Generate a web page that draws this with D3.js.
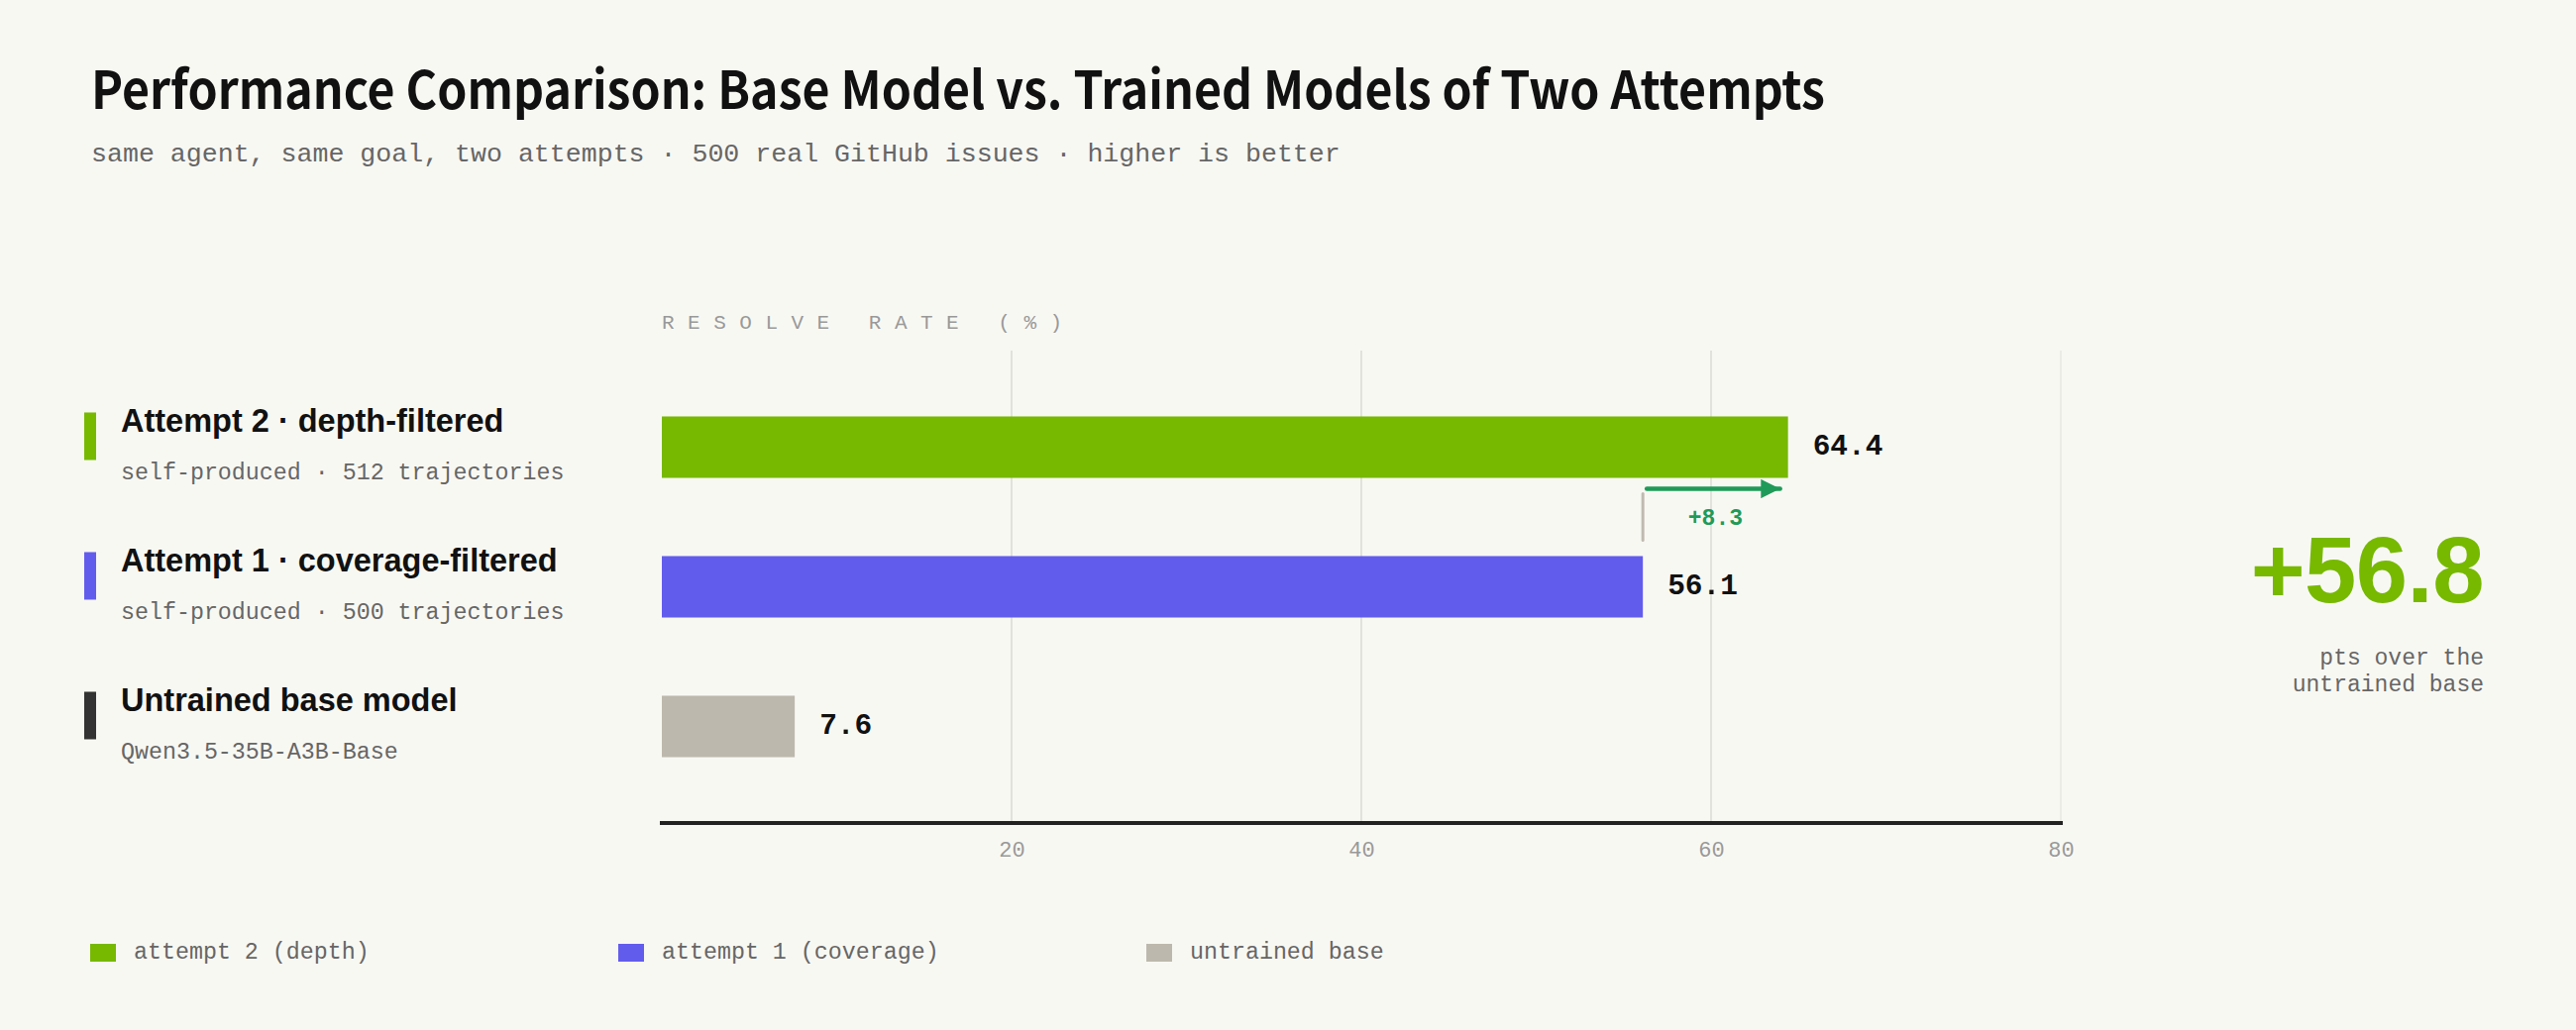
<!DOCTYPE html>
<html>
<head>
<meta charset="utf-8" />
<script src="https://cdn.jsdelivr.net/npm/d3@7"></script>
<style>
  body { margin: 0; background: #f8f8f3; }
  svg { display: block; }
  .mono { font-family: "Liberation Mono", "DejaVu Sans Mono", monospace; }
  .sans { font-family: "Liberation Sans", Arial, sans-serif; }
</style>
</head>
<body>
<div id="chart"></div>
<script>
// data
var categories = ["Attempt 2 · depth-filtered", "Attempt 1 · coverage-filtered", "Untrained base model"];
var subLabels = ["self-produced · 512 trajectories", "self-produced · 500 trajectories", "Qwen3.5-35B-A3B-Base"];
var values = [64.4, 56.1, 7.6];
var legendLabels = ["attempt 2 (depth)", "attempt 1 (coverage)", "untrained base"];
var tickValues = [20, 40, 60, 80];

var barColors = ["#76b900", "#625ced", "#bdb8ad"];
var markColors = ["#76b900", "#625ced", "#333333"];

var width = 2600, height = 1040;
var svg = d3.select("#chart").append("svg")
  .attr("width", width)
  .attr("height", height);

svg.append("rect").attr("width", width).attr("height", height).attr("fill", "#f8f8f3");

// title
svg.append("text")
  .attr("x", 92).attr("y", 110)
  .attr("textLength", 1750)
  .attr("lengthAdjust", "spacingAndGlyphs")
  .style("font-family", '"Noto Sans CJK SC", "Noto Sans", sans-serif')
  .style("font-weight", 700)
  .style("font-size", "53px")
  .attr("fill", "#111")
  .text("Performance Comparison: Base Model vs. Trained Models of Two Attempts");

svg.append("text")
  .attr("class", "mono")
  .attr("x", 92).attr("y", 163)
  .style("font-size", "26.6px")
  .attr("fill", "#666")
  .text("same agent, same goal, two attempts · 500 real GitHub issues · higher is better");

// scales
var x = d3.scaleLinear().domain([0, 80]).range([668, 2080]);
var y = d3.scaleBand().domain(categories).range([381, 804]).paddingInner(0.56).paddingOuter(0.28);

// axis caption
svg.append("text")
  .attr("class", "mono")
  .attr("x", 668).attr("y", 332)
  .style("font-size", "21px")
  .style("letter-spacing", "13.5px")
  .attr("fill", "#999")
  .text("RESOLVE RATE (%)");

// grid
svg.append("g").selectAll("line")
  .data(tickValues)
  .enter().append("line")
    .attr("x1", function(d) { return x(d); })
    .attr("x2", function(d) { return x(d); })
    .attr("y1", 354).attr("y2", 831)
    .attr("stroke", function(d) { return d === 80 ? "#ecece6" : "#e2e2dc"; })
    .attr("stroke-width", 2);

// bars
svg.append("g").selectAll("rect")
  .data(values)
  .enter().append("rect")
    .attr("x", x(0))
    .attr("y", function(d, i) { return y(categories[i]); })
    .attr("width", function(d) { return x(d) - x(0); })
    .attr("height", y.bandwidth())
    .attr("fill", function(d, i) { return barColors[i]; });

// value labels
svg.append("g").selectAll("text")
  .data(values)
  .enter().append("text")
    .attr("class", "mono")
    .attr("x", function(d) { return x(d) + 25; })
    .attr("y", function(d, i) { return y(categories[i]) + y.bandwidth() / 2 - 3; })
    .attr("dy", "0.35em")
    .style("font-size", "29.5px")
    .style("font-weight", 700)
    .attr("fill", "#111")
    .text(function(d) { return d.toFixed(1); });

// row labels on the left
var rows = svg.append("g").selectAll("g")
  .data(categories)
  .enter().append("g")
    .attr("transform", function(d) { return "translate(0," + y(d) + ")"; });

rows.append("rect")
  .attr("x", 85).attr("y", -4)
  .attr("width", 12).attr("height", 48)
  .attr("fill", function(d, i) { return markColors[i]; });

rows.append("text")
  .attr("class", "sans")
  .attr("x", 122).attr("y", 16)
  .style("font-size", "32.5px")
  .style("font-weight", 700)
  .attr("fill", "#111")
  .text(function(d) { return d; });

rows.append("text")
  .attr("class", "mono")
  .attr("x", 122).attr("y", 64)
  .style("font-size", "23.3px")
  .attr("fill", "#666")
  .text(function(d, i) { return subLabels[i]; });

// delta annotation between attempt 1 and attempt 2
var delta = values[0] - values[1];
var yTop = y(categories[0]) + y.bandwidth();
var yMid = y(categories[1]);
svg.append("defs").append("marker")
  .attr("id", "arrow")
  .attr("viewBox", "0 0 10 10")
  .attr("refX", 10).attr("refY", 5)
  .attr("markerWidth", 4.3).attr("markerHeight", 4.3)
  .attr("orient", "auto")
  .append("path").attr("d", "M0,0L10,5L0,10Z").attr("fill", "#1f9a58");

svg.append("line")
  .attr("x1", x(values[1])).attr("x2", x(values[1]))
  .attr("y1", yTop + 16).attr("y2", yMid - 16)
  .attr("stroke", "#bfbab0").attr("stroke-width", 3)
  .attr("stroke-linecap", "round");

svg.append("line")
  .attr("x1", x(values[1]) + 4).attr("x2", x(values[0]) - 8)
  .attr("y1", yTop + 11).attr("y2", yTop + 11)
  .attr("stroke", "#1f9a58").attr("stroke-width", 4.5)
  .attr("stroke-linecap", "round")
  .attr("marker-end", "url(#arrow)");

svg.append("text")
  .attr("class", "mono")
  .attr("x", (x(values[0]) + x(values[1])) / 2).attr("y", yTop + 39)
  .attr("dy", "0.35em")
  .attr("text-anchor", "middle")
  .style("font-size", "23px")
  .style("font-weight", 700)
  .attr("fill", "#1f9a58")
  .text("+" + delta.toFixed(1));

// x axis
var axis = svg.append("g")
  .attr("transform", "translate(0,831)")
  .call(d3.axisBottom(x).tickValues(tickValues).tickSize(0).tickPadding(18));
axis.select(".domain").attr("stroke", "#222").attr("stroke-width", 4)
  .attr("d", "M666,0H2082");
axis.selectAll("text")
  .attr("class", "mono")
  .style("font-size", "22px")
  .attr("fill", "#999");

// headline number
var gain = values[0] - values[2];
svg.append("text")
  .attr("class", "sans")
  .attr("x", 2507).attr("y", 608)
  .attr("text-anchor", "end")
  .style("font-size", "94px")
  .style("font-weight", 700)
  .style("letter-spacing", "-0.5px")
  .attr("fill", "#76b900")
  .text("+" + gain.toFixed(1));

svg.append("text")
  .attr("class", "mono")
  .attr("x", 2507).attr("y", 671)
  .attr("text-anchor", "end")
  .style("font-size", "23px")
  .attr("fill", "#666")
  .text("pts over the");

svg.append("text")
  .attr("class", "mono")
  .attr("x", 2507).attr("y", 698)
  .attr("text-anchor", "end")
  .style("font-size", "23px")
  .attr("fill", "#666")
  .text("untrained base");

// legend
var legendX = [91, 624, 1157];
var legend = svg.append("g").selectAll("g")
  .data(legendLabels)
  .enter().append("g")
    .attr("transform", function(d, i) { return "translate(" + legendX[i] + ",953)"; });

legend.append("rect")
  .attr("width", 26).attr("height", 18)
  .attr("fill", function(d, i) { return barColors[i]; });

legend.append("text")
  .attr("class", "mono")
  .attr("x", 44).attr("y", 15)
  .style("font-size", "23.3px")
  .attr("fill", "#666")
  .text(function(d) { return d; });
</script>
</body>
</html>
